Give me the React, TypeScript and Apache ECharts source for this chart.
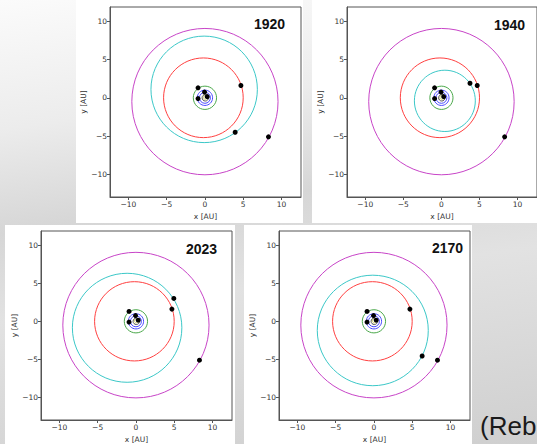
import React, { useEffect, useRef } from "react";
import * as echarts from "echarts";

// ---- data ----
const years = ["1920", "1940", "2023", "2170"];

// fixed planetary orbits (circles: centre x, centre y, radius, AU)
const orbitNames = ["Sun", "Mercury", "Venus", "Earth", "Mars", "Jupiter", "Saturn"];
const orbitCx = [0.05, 0.05, 0, 0, 0, -0.2, 0];
const orbitCy = [0.05, 0, 0, 0, 0, 0, -0.5];
const orbitR = [0.25, 0.42, 0.72, 1.0, 1.52, 5.2, 9.55];
const orbitColors = ["#d6d66a", "#555555", "#4a4aff", "#4a4aff", "#4aa84a", "#ff4040", "#c845c8"];

// planet positions (AU)
const planetX = [0.3, -0.05, -0.9, -0.9, 4.7, 8.3];
const planetY = [0.15, 0.75, -0.1, 1.3, 1.6, -5.1];

// comet orbit per year
const cometOrbitCx = [-0.1, 0.45, -1.15, -0.15];
const cometOrbitCy = [1.1, -0.4, -0.85, -1.2];
const cometOrbitR = [6.95, 4.0, 7.15, 7.25];
const cometColor = "#3cc8c8";
// comet position per year
const cometX = [3.95, 3.75, 4.95, 6.3];
const cometY = [-4.5, 1.9, 3.0, -4.55];

const tickValues = [-10, -5, 0, 5, 10];

// ---- layout ----
const gridPos = [
  { left: 110, top: 7 },
  { left: 347, top: 7 },
  { left: 41, top: 231 },
  { left: 279, top: 231 },
];
const titlePos = [
  { left: 254, top: 17 },
  { left: 494, top: 18 },
  { left: 186, top: 242 },
  { left: 432, top: 241 },
];
const cards = [
  { left: 76, top: 0, width: 227, height: 223 },
  { left: 312, top: 0, width: 225, height: 223 },
  { left: 5, top: 225, width: 230, height: 219 },
  { left: 244, top: 225, width: 228, height: 219 },
];

const fmt = (v: number) => (v < 0 ? "\u2212" + Math.abs(v) : String(v));

const axisCommon = {
  type: "value",
  nameLocation: "middle",
  nameTextStyle: { fontSize: 7.5, color: "#333", fontFamily: "DejaVu Sans" },
  axisLine: { show: true, onZero: false, lineStyle: { color: "#555", width: 1 } },
  axisTick: { show: true, length: 3, customValues: tickValues, lineStyle: { color: "#555" } },
  axisLabel: {
    customValues: tickValues,
    fontSize: 7.5,
    color: "#333",
    fontFamily: "DejaVu Sans",
    margin: 3,
    formatter: fmt,
  },
  splitLine: { show: false },
};

function renderOrbit(params: any, api: any) {
  const c = api.coord([api.value(0), api.value(1)]);
  const s = api.size([api.value(2), api.value(2)]);
  return {
    type: "ellipse",
    shape: { cx: c[0], cy: c[1], rx: s[0], ry: s[1] },
    style: { fill: "none", stroke: api.visual("color"), lineWidth: 1 },
  };
}

export default function App() {
  const ref = useRef<HTMLDivElement>(null);
  useEffect(() => {
    if (!ref.current) return;
    const chart = echarts.init(ref.current, null, { renderer: "svg" });
    const series: any[] = [];
    years.forEach((_, i) => {
      const orbitData = orbitNames.map((n, j) => ({
        name: n,
        value: [orbitCx[j], orbitCy[j], orbitR[j]],
        itemStyle: { color: orbitColors[j] },
      }));
      orbitData.push({
        name: "Comet",
        value: [cometOrbitCx[i], cometOrbitCy[i], cometOrbitR[i]],
        itemStyle: { color: cometColor },
      });
      series.push({
        type: "custom",
        xAxisIndex: i,
        yAxisIndex: i,
        encode: { x: 0, y: 1 },
        renderItem: renderOrbit,
        data: orbitData,
        z: 2,
        silent: true,
      });
      const pts = planetX.map((x, j) => [x, planetY[j]]);
      pts.push([cometX[i], cometY[i]]);
      series.push({
        type: "scatter",
        xAxisIndex: i,
        yAxisIndex: i,
        data: pts,
        symbolSize: 5,
        itemStyle: { color: "#000", opacity: 1 },
        z: 3,
        silent: true,
      });
    });
    chart.setOption({
      animation: false,
      backgroundColor: "transparent",
      title: years.map((y, i) => ({
        text: y,
        left: titlePos[i].left,
        top: titlePos[i].top,
        padding: 0,
        textStyle: { fontSize: 14, fontWeight: "bold", fontFamily: "Liberation Sans", color: "#111" },
      })),
      grid: gridPos.map((g) => ({
        left: g.left,
        top: g.top,
        width: 191,
        height: 190,
        show: true,
        backgroundColor: "#fff",
        borderColor: "#555",
        borderWidth: 1,
      })),
      xAxis: years.map((_, i) => ({
        ...axisCommon,
        gridIndex: i,
        min: -12.4,
        max: 12.55,
        position: "bottom",
        name: "x [AU]",
        nameGap: 15,
      })),
      yAxis: years.map((_, i) => ({
        ...axisCommon,
        gridIndex: i,
        min: -12.95,
        max: 11.85,
        position: "left",
        name: "y [AU]",
        nameGap: 22,
      })),
      graphic: [
        {
          type: "text",
          left: 480,
          top: 413,
          style: { text: "(Reb", fontSize: 26, fontFamily: "Liberation Sans", fill: "#1a1a1a" },
        },
      ],
      series,
    });
    return () => chart.dispose();
  }, []);
  return (
    <div
      style={{
        position: "fixed",
        left: 0,
        top: 0,
        width: 537,
        height: 444,
        overflow: "hidden",
        background:
          "linear-gradient(172deg, #fbfbfb 0%, #ececec 25%, #d6d6d6 45%, #e2e2e2 62%, #d9d9d9 80%, #cfcfcf 100%)",
      }}
    >
      {cards.map((c, i) => (
        <div
          key={i}
          style={{ position: "absolute", left: c.left, top: c.top, width: c.width, height: c.height, background: "#fff" }}
        />
      ))}
      <div ref={ref} style={{ position: "absolute", left: 0, top: 0, width: 537, height: 444 }} />
    </div>
  );
}
